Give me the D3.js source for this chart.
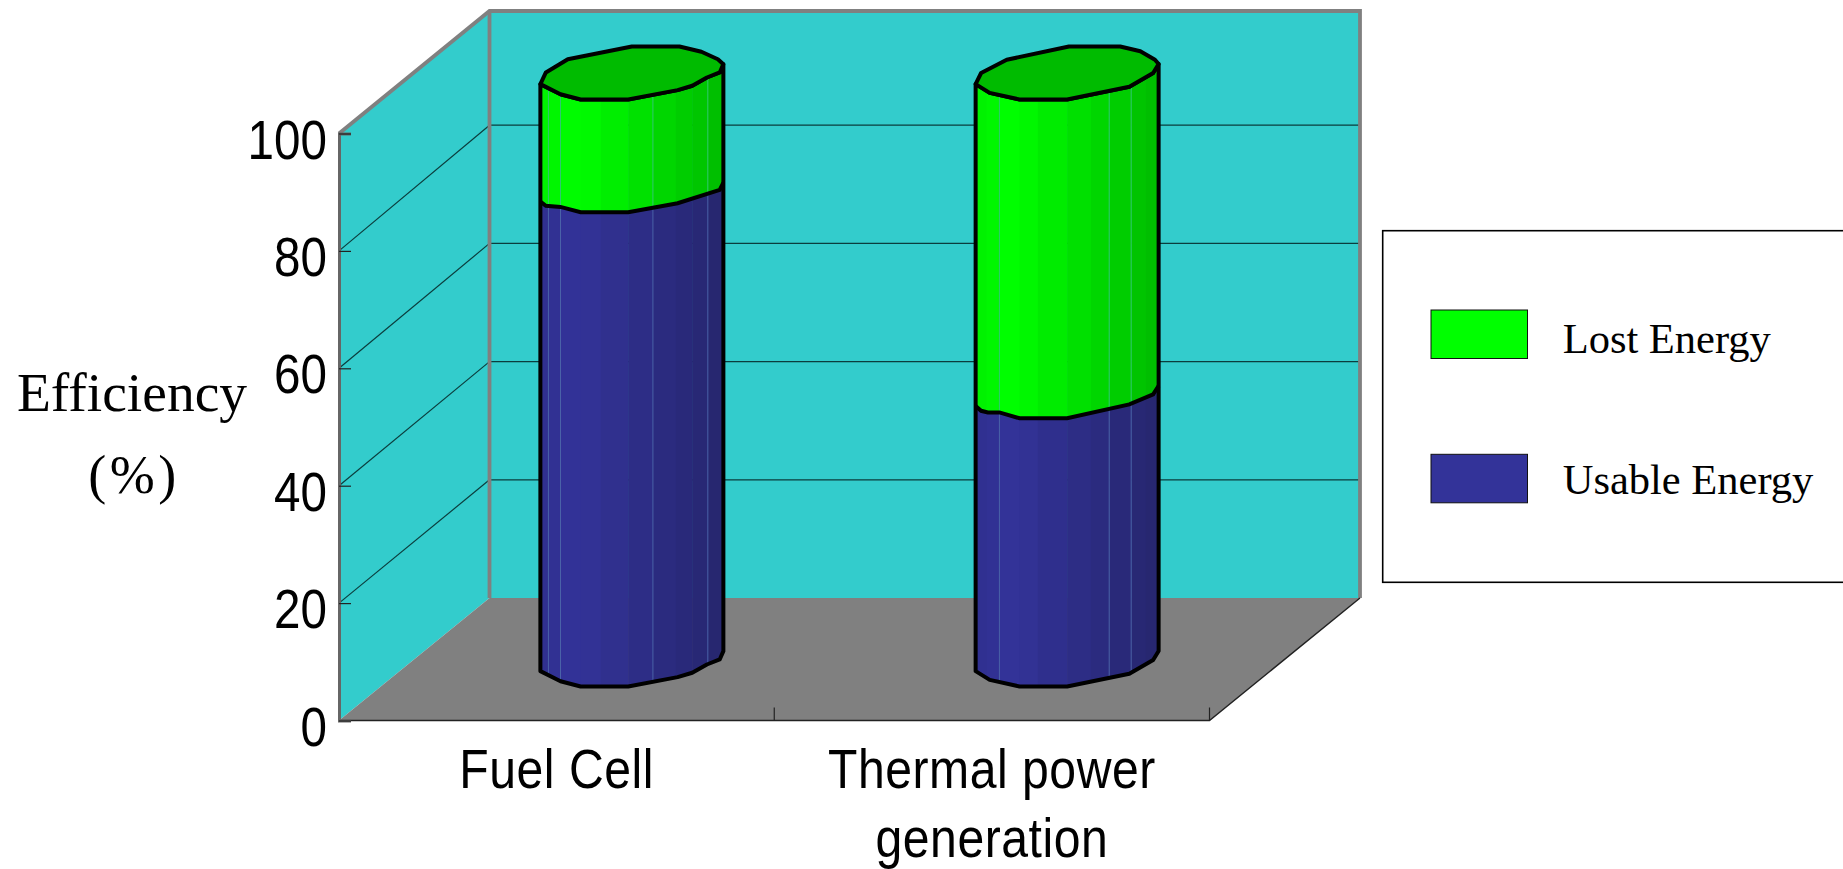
<!DOCTYPE html>
<html>
<head>
<meta charset="utf-8">
<script src="https://cdn.jsdelivr.net/npm/d3@7"></script>
<style>
    html, body { margin: 0; padding: 0; background: #fff; overflow: hidden; }
    .narrow { font-family: "Liberation Sans", sans-serif; font-size: 56px; fill: #000; }
    .serif { font-family: "Liberation Serif", serif; fill: #000; }
</style>
</head>
<body>
<svg id="chart" width="1843" height="869"></svg>
<script>
const categories = ["Fuel Cell", "Thermal power generation"];
const usable = [80.8, 45.7];
const lost = [19.2, 54.3];
const yTicks = [0, 20, 40, 60, 80, 100];
const gridTicks = [20, 40, 60, 80];
const legendLabels = ["Lost Energy", "Usable Energy"];

// outline of each column, u across its width, v up its cap
const frontEdges = [
    [[0, .29], [.11, .10], [.22, 0], [.48, 0], [.75, .177], [.83, .26], [.91, .415], [.98, .51], [1, .667]],
    [[0, .29], [.077, .125], [.24, 0], [.5, 0], [.84, .24], [.97, .5], [1, .67]]
];
const backEdges = [
    [[0, .29], [.03, .51], [.15, .76], [.5, 1], [.76, 1], [.88, .9], [.97, .76], [1, .667]],
    [[0, .29], [.03, .5], [.17, .75], [.51, 1], [.79, 1], [.9, .91], [.98, .75], [1, .67]]
];
// the line between the two stacked parts is flatter than the caps
const waistEdges = [
    [[0, .2], [.03, .12], [.11, .10], [.22, 0], [.48, 0], [.75, .17], [.98, .42], [1, .56]],
    [[0, .23], [.03, .14], [.067, .11], [.13, .11], [.24, 0], [.5, 0], [.84, .26], [.97, .45], [1, .61]]
];
const facets = [
    [0, .044, .11, .22, .33, .48, .615, .74, .83, .915, 1],
    [0, .06, .13, .24, .34, .5, .63, .73, .85, .93, 1]
];
const seams = [
    [.044, .11, .615, .915],
    [.13, .73, .85]
];

const wallColor = "#33cccc";
const floorColor = "#808080";
const capColor = "#00bb00";
const greenShade = d3.scaleLinear().domain([0, .2, 1]).range(["#00f000", "#00ff00", "#00bb00"]);
const blueShade = d3.scaleLinear().domain([0, .2, 1]).range(["#30308f", "#333399", "#26266e"]);

const svg = d3.select("#chart");

const left = 339, right = 1209.5;
const depthX = 150.5;
const y = d3.scaleLinear().domain([0, 100]).range([720.5, 133.5]);
const yBack = d3.scaleLinear().domain([0, 100]).range([598, 7]);
const x = d3.scaleBand().domain(categories).range([left, right]);
const wallTop = 11;

const barWidth = 183;
const capHeight = 53;
const barLift = 34;
const strokeW = 4;
const u = d3.scaleLinear().domain([0, 1]).range([0, barWidth]);
const line = d3.line();

function barX(i) {
    return x(categories[i]) + x.bandwidth() / 2 + depthX / 2 - barWidth / 2;
}

function edge(i, edges, value) {
    return edges[i].map(p => [barX(i) + u(p[0]), y(value) - barLift - p[1] * capHeight]);
}

// walls and floor
svg.append("path")
    .attr("d", line([[left, y(0)], [left, y(100)], [left + depthX, wallTop], [left + depthX, yBack(0)]]) + "Z")
    .attr("fill", wallColor);
svg.append("path")
    .attr("d", line([[left + depthX, wallTop], [right + depthX, wallTop], [right + depthX, yBack(0)], [left + depthX, yBack(0)]]) + "Z")
    .attr("fill", wallColor);
svg.append("path")
    .attr("d", line([[left, y(0)], [left + depthX, yBack(0)], [right + depthX, yBack(0)], [right, y(0)]]) + "Z")
    .attr("fill", floorColor);

// gridlines
svg.append("g").selectAll("line")
    .data(gridTicks)
    .enter().append("line")
    .attr("x1", left + depthX)
    .attr("x2", right + depthX)
    .attr("y1", d => yBack(d))
    .attr("y2", d => yBack(d))
    .attr("stroke", "#0b3d3d")
    .attr("stroke-width", 1.2);
svg.append("g").selectAll("line")
    .data(gridTicks)
    .enter().append("line")
    .attr("x1", left)
    .attr("x2", left + depthX)
    .attr("y1", d => y(d))
    .attr("y2", d => yBack(d))
    .attr("stroke", "#0b3d3d")
    .attr("stroke-width", 1.2);

// wall frame
svg.append("path")
    .attr("d", line([[left, y(100)], [left + depthX, wallTop], [right + depthX, wallTop], [right + depthX, yBack(0)]]))
    .attr("fill", "none")
    .attr("stroke", floorColor)
    .attr("stroke-width", 3.8);
svg.append("line")
    .attr("x1", left + depthX)
    .attr("x2", left + depthX)
    .attr("y1", wallTop)
    .attr("y2", yBack(0))
    .attr("stroke", floorColor)
    .attr("stroke-width", 3.8);

// floor edges
svg.append("path")
    .attr("d", line([[left, y(0)], [right, y(0)], [right + depthX, yBack(0)]]))
    .attr("fill", "none")
    .attr("stroke", "#222")
    .attr("stroke-width", 1.4);

// columns
const defs = svg.append("defs");
categories.forEach((c, i) => {
    const total = usable[i] + lost[i];
    const parts = [
        { from: 0, to: usable[i], low: frontEdges, high: waistEdges, shade: blueShade, seam: "#4a62a8" },
        { from: usable[i], to: total, low: waistEdges, high: frontEdges, shade: greenShade, seam: "#30c870" }
    ];
    const g = svg.append("g");
    parts.forEach((p, k) => {
        const outline = line(edge(i, p.low, p.from).concat(edge(i, p.high, p.to).reverse())) + "Z";
        const clipId = `clip-${i}-${k}`;
        defs.append("clipPath").attr("id", clipId).append("path").attr("d", outline);
        const strips = g.append("g").attr("clip-path", `url(#${clipId})`);
        strips.selectAll("rect")
            .data(d3.pairs(facets[i]))
            .enter().append("rect")
            .attr("x", d => barX(i) + u(d[0]))
            .attr("width", d => u(d[1]) - u(d[0]) + .5)
            .attr("y", y(p.to) - barLift - capHeight)
            .attr("height", y(p.from) - y(p.to) + capHeight)
            .attr("fill", d => p.shade((d[0] + d[1]) / 2));
        strips.selectAll("line")
            .data(seams[i])
            .enter().append("line")
            .attr("x1", d => barX(i) + u(d))
            .attr("x2", d => barX(i) + u(d))
            .attr("y1", y(p.to) - barLift - capHeight)
            .attr("y2", y(p.from) - barLift)
            .attr("stroke", p.seam)
            .attr("stroke-width", 1);
    });

    g.append("path")
        .attr("d", line(edge(i, frontEdges, 0).concat(edge(i, frontEdges, total).reverse())) + "Z")
        .attr("fill", "none")
        .attr("stroke", "#000")
        .attr("stroke-width", strokeW)
        .attr("stroke-linejoin", "round");
    g.append("path")
        .attr("d", line(edge(i, waistEdges, usable[i])))
        .attr("fill", "none")
        .attr("stroke", "#000")
        .attr("stroke-width", strokeW);
    g.append("path")
        .attr("d", line(edge(i, frontEdges, total).concat(edge(i, backEdges, total).reverse())) + "Z")
        .attr("fill", capColor)
        .attr("stroke", "#000")
        .attr("stroke-width", strokeW)
        .attr("stroke-linejoin", "round");
});

// y axis
const yAxis = svg.append("g")
    .attr("transform", `translate(${left},0)`)
    .call(d3.axisLeft(y).tickValues(yTicks).tickSize(-12).tickPadding(12).tickFormat(d3.format("d")));
yAxis.attr("font-size", null).attr("font-family", null);
yAxis.select(".domain").attr("stroke", "#666").attr("stroke-width", 3);
yAxis.selectAll(".tick line").attr("stroke", "#222").attr("stroke-width", 1.2);
// no narrow face is installed, so the labels are squeezed
yAxis.selectAll("text")
    .attr("class", "narrow")
    .attr("x", 0)
    .attr("dy", "0.44em")
    .attr("transform", "translate(-12,0) scale(0.85,1)");

// x axis ticks sit between the categories
svg.append("g").selectAll("line")
    .data(categories)
    .enter().append("line")
    .attr("x1", d => x(d) + x.bandwidth())
    .attr("x2", d => x(d) + x.bandwidth())
    .attr("y1", y(0))
    .attr("y2", y(0) - 13)
    .attr("stroke", "#222")
    .attr("stroke-width", 1.2);

const xLabels = [["Fuel Cell"], ["Thermal power", "generation"]];
const xLabel = svg.append("g").selectAll("text")
    .data(categories)
    .enter().append("text")
    .attr("class", "narrow")
    .attr("text-anchor", "middle")
    .attr("transform", d => `translate(${x(d) + x.bandwidth() / 2},0) scale(0.86,1)`)
    .style("letter-spacing", "0.6px");
xLabel.selectAll("tspan")
    .data((d, i) => xLabels[i])
    .enter().append("tspan")
    .attr("x", 0)
    .attr("y", (d, i) => 788 + i * 69)
    .text(d => d);

// axis title
svg.append("text")
    .attr("class", "serif")
    .attr("x", 132)
    .attr("y", 411)
    .attr("text-anchor", "middle")
    .attr("font-size", 55.5)
    .text("Efficiency");
svg.append("text")
    .attr("class", "serif")
    .attr("x", 134)
    .attr("y", 493)
    .attr("text-anchor", "middle")
    .attr("font-size", 54)
    .style("letter-spacing", "3.5px")
    .text("(%)");

// legend
svg.append("rect")
    .attr("x", 1382.7)
    .attr("y", 230.7)
    .attr("width", 500)
    .attr("height", 351.6)
    .attr("fill", "#fff")
    .attr("stroke", "#000")
    .attr("stroke-width", 1.6);
const legendColors = ["#00ff00", "#333399"];
const legendY = d3.scalePoint().domain(legendLabels).range([310, 454.3]);
const legendTextY = d3.scalePoint().domain(legendLabels).range([353.3, 494]);
svg.append("g").selectAll("rect")
    .data(legendLabels)
    .enter().append("rect")
    .attr("x", 1431)
    .attr("y", d => legendY(d))
    .attr("width", 96.5)
    .attr("height", 48.5)
    .attr("fill", (d, i) => legendColors[i])
    .attr("stroke", "#111")
    .attr("stroke-width", 1);
svg.append("g").selectAll("text")
    .data(legendLabels)
    .enter().append("text")
    .attr("class", "serif")
    .attr("x", 1562.7)
    .attr("y", d => legendTextY(d))
    .attr("font-size", 42.5)
    .text(d => d);
</script>
</body>
</html>
